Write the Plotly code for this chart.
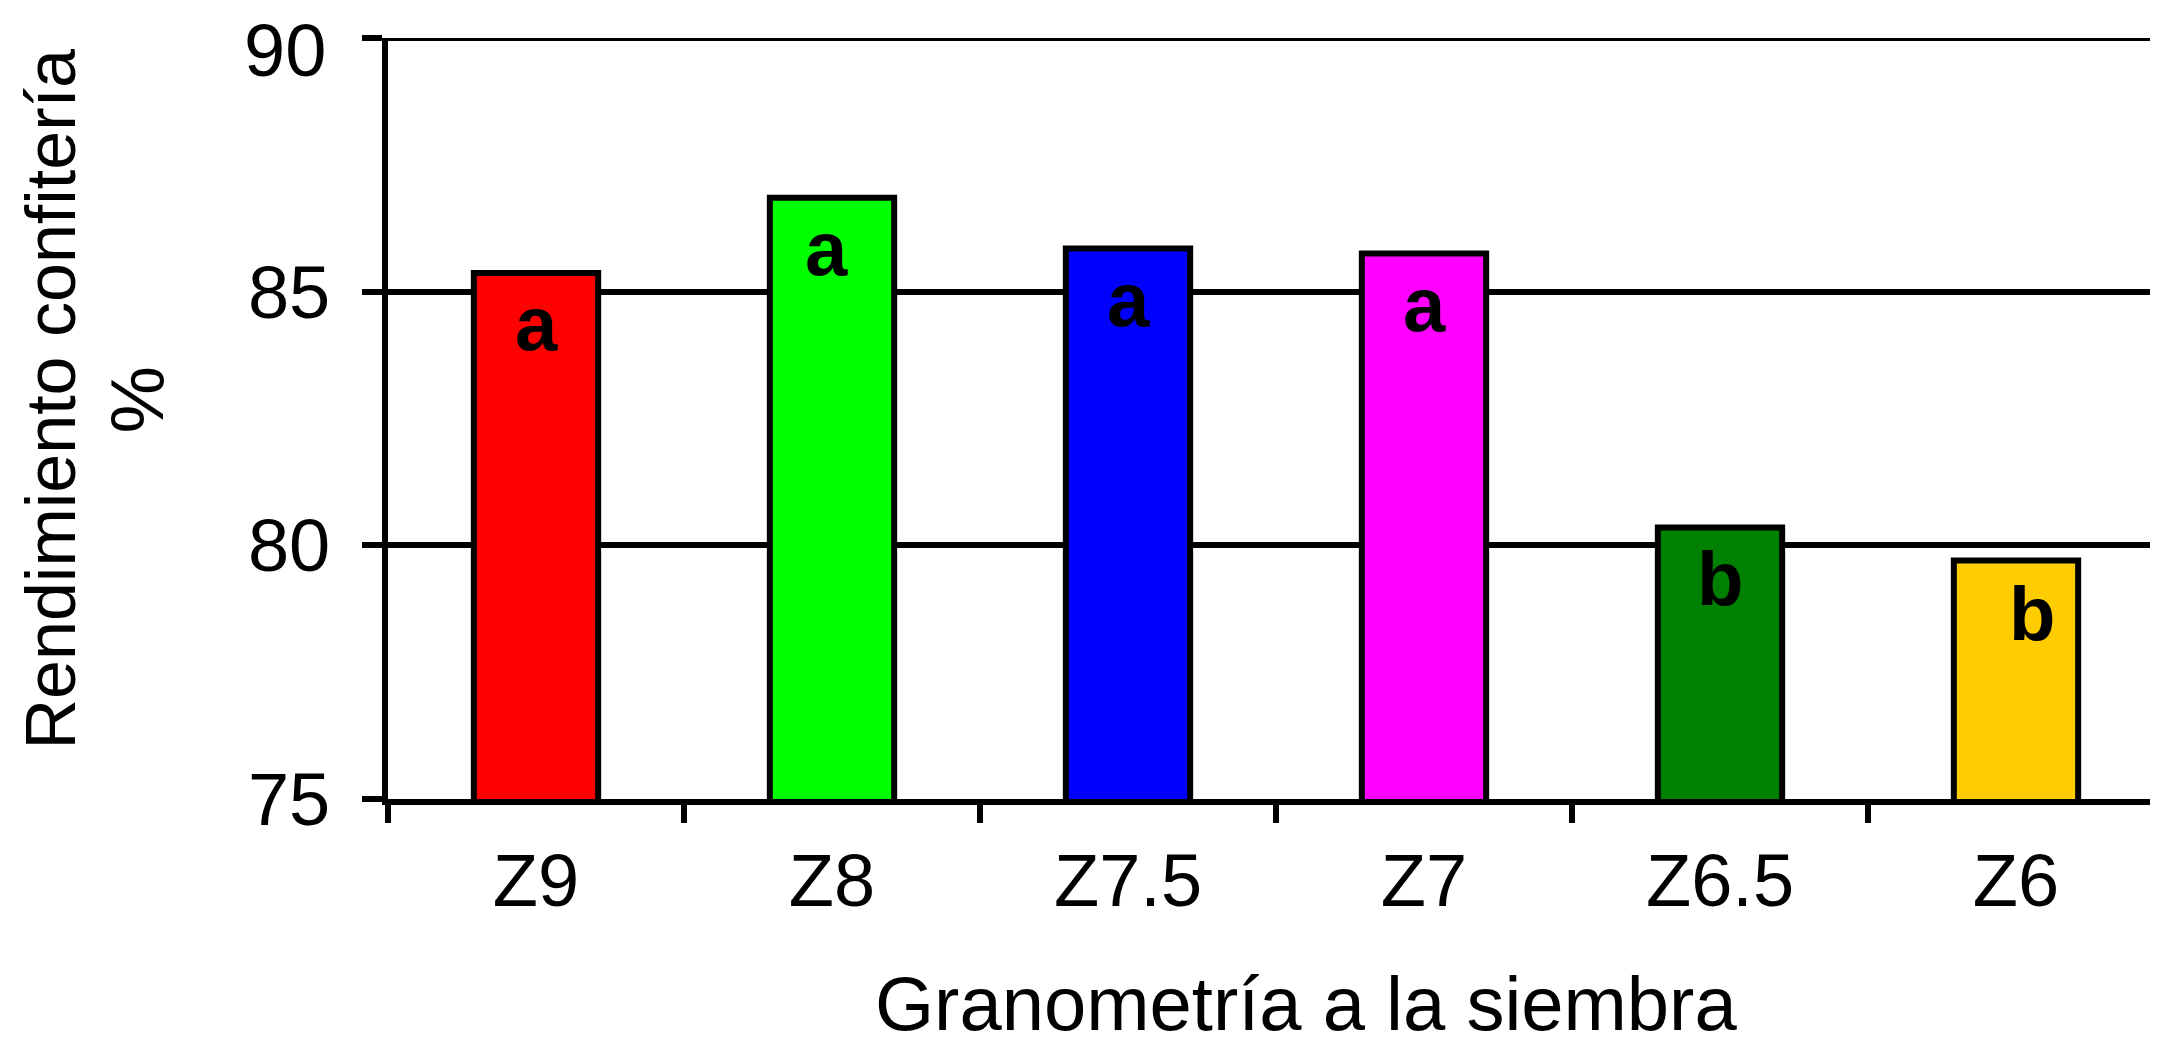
import plotly.graph_objects as go

# data
categories = ["Z9", "Z8", "Z7.5", "Z7", "Z6.5", "Z6"]
rendimiento = [85.37, 86.85, 85.85, 85.75, 80.35, 79.7]
letras = ["a", "a", "a", "a", "b", "b"]
colores = ["#FF0000", "#00FF00", "#0000FF", "#FF00FF", "#008000", "#FFCC00"]
y_ticks = [75, 80, 85, 90]

FONT = "Liberation Sans, Arial, sans-serif"
LW = 6  # line weight used for axes / grid / bar outline

fig = go.Figure()

fig.add_trace(go.Bar(
    x=categories, y=rendimiento,
    marker=dict(color=colores, line=dict(color="black", width=LW)),
    width=0.42,
    showlegend=False, hoverinfo="x+y",
))

# significance letters, sitting just under the top of each bar
nudge = {"Z8": (-6, 0), "Z6": (16, -2)}
for cat, val, let in zip(categories, rendimiento, letras):
    dx, dy = nudge.get(cat, (0, 0))
    fig.add_annotation(
        x=cat, y=val, yanchor="top", yshift=-6 + dy, xshift=dx,
        text=f"<b>{let}</b>", showarrow=False,
        font=dict(family=FONT, size=76, color="black"),
    )

# top gridline at 90 (plotly skips the one on the plot edge)
fig.add_shape(type="line", xref="paper", yref="y", x0=0, x1=1,
              y0=y_ticks[-1], y1=y_ticks[-1],
              line=dict(color="black", width=LW))
# its label is pulled down a little, as in the original
fig.add_annotation(
    xref="paper", yref="y", x=0, y=y_ticks[-1], xshift=-60, yshift=-12,
    xanchor="right", text=str(y_ticks[-1]), showarrow=False,
    font=dict(family=FONT, size=74, color="black"),
)

# axis titles
fig.add_annotation(
    xref="paper", yref="paper", x=0, y=0.525, xshift=-337, xanchor="center",
    text="Rendimiento confitería", textangle=-90, showarrow=False,
    font=dict(family=FONT, size=70, color="black"),
)
fig.add_annotation(
    xref="paper", yref="paper", x=0, y=0.525, xshift=-252, xanchor="center",
    text="%", textangle=-90, showarrow=False,
    font=dict(family=FONT, size=76, color="black"),
)
fig.add_annotation(
    xref="paper", yref="paper", x=0.5, y=0, xshift=30, yshift=-160,
    yanchor="top",
    text="Granometría a la siembra", showarrow=False,
    font=dict(family=FONT, size=76, color="black"),
)

fig.update_layout(
    width=2158, height=1045,
    margin=dict(l=380, r=2, t=30, b=254),
    plot_bgcolor="white", paper_bgcolor="white",
    font=dict(family=FONT, color="black"),
    xaxis=dict(
        automargin=False,
        showline=True, linecolor="black", linewidth=LW,
        ticks="outside", tickson="boundaries", ticklen=18,
        tickwidth=LW, tickcolor="black",
        tickfont=dict(family=FONT, size=74, color="black"),
        ticklabelstandoff=12,
        showgrid=False,
    ),
    yaxis=dict(
        automargin=False,
        range=[y_ticks[0], y_ticks[-1]],
        tickvals=y_ticks,
        ticktext=[str(v) for v in y_ticks[:-1]] + [""],
        showline=True, linecolor="black", linewidth=LW,
        ticks="outside", ticklen=20, tickwidth=LW, tickcolor="black",
        tickfont=dict(family=FONT, size=74, color="black"),
        ticklabelstandoff=17,
        showgrid=True, gridcolor="black", gridwidth=LW,
        zeroline=False,
    ),
)

fig.write_html("out.html")
